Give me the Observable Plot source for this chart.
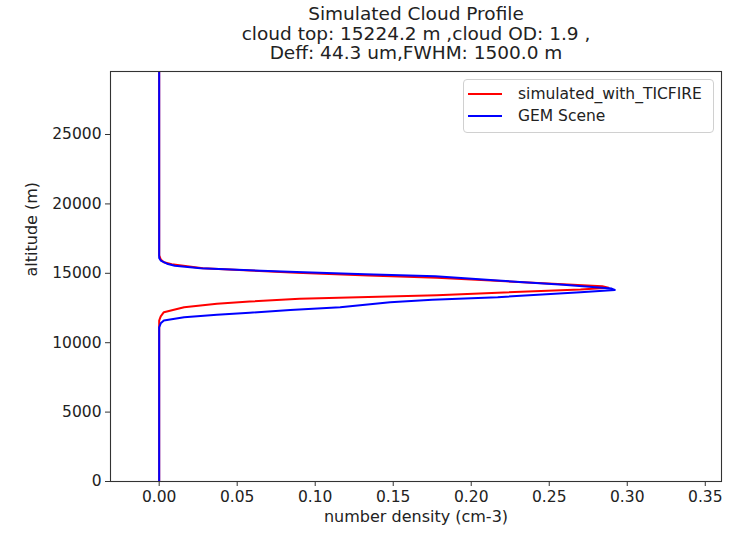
<!DOCTYPE html>
<html>
<head>
<meta charset="utf-8">
<script src="https://cdn.jsdelivr.net/npm/d3@7"></script>
<script src="https://cdn.jsdelivr.net/npm/@observablehq/plot@0.6"></script>
<style>
  html, body { margin: 0; padding: 0; background: white; }
  #wrap { position: relative; width: 731px; height: 535px; }
  #wrap svg { position: absolute; left: 0; top: 0; }
  #legend { position: absolute; left: 463px; top: 79px; width: 251px; height: 54px;
    border: 1px solid #d0d0d0; border-radius: 4px; background: rgba(255,255,255,0.85);
    box-sizing: border-box; font-family: "DejaVu Sans"; font-size: 15.5px; color: #222; }
  .entry { position: absolute; left: 0; height: 20px; width: 100%; }
  .swatch { position: absolute; left: 4px; top: 9px; width: 34px; height: 2px; }
  .lab { position: absolute; left: 54px; top: 0; line-height: 20px; white-space: nowrap; }
</style>
</head>
<body>
<div id="wrap"><div id="legend"></div></div>
<script>
const titleLines = ["Simulated Cloud Profile", "cloud top: 15224.2 m ,cloud OD: 1.9 ,", "Deff: 44.3 um,FWHM: 1500.0 m"];
const xLabel = "number density (cm-3)";
const yLabel = "altitude (m)";
const seriesNames = ["simulated_with_TICFIRE", "GEM Scene"];
const seriesColors = ["#ff0000", "#0000ff"];

const xTicks = [0, 0.05, 0.10, 0.15, 0.20, 0.25, 0.30, 0.35];
const yTicks = [0, 5000, 10000, 15000, 20000, 25000];
const xDomain = [-0.0312, 0.3604];
const yDomain = [0, 29540];

// simulated_with_TICFIRE
const simAlt = [0, 11600, 11750, 11900, 12200, 12560, 12800, 12970, 13160, 13420, 13600, 13830, 13960, 14070, 14200, 14420, 14680, 14850, 15040, 15200, 15370, 15500, 15650, 15800, 16000, 16300, 30000];
const simVal = [0, 0, 0.0005, 0.001, 0.003, 0.016, 0.037, 0.058, 0.090, 0.178, 0.217, 0.270, 0.288, 0.284, 0.262, 0.222, 0.178, 0.134, 0.088, 0.058, 0.028, 0.018, 0.008, 0.003, 0.001, 0, 0];

// GEM Scene
const gemAlt = [0, 11100, 11400, 11600, 11840, 12010, 12160, 12350, 12560, 12920, 13100, 13280, 13640, 13800, 13900, 14170, 14480, 14780, 14930, 15100, 15220, 15370, 15550, 15690, 15920, 16100, 30000];
const gemVal = [0, 0, 0.001, 0.003, 0.016, 0.037, 0.058, 0.084, 0.116, 0.148, 0.175, 0.217, 0.270, 0.292, 0.290, 0.259, 0.217, 0.177, 0.132, 0.088, 0.058, 0.0265, 0.010, 0.005, 0.001, 0, 0];

const sim = simAlt.map((a, i) => ({alt: a, v: simVal[i]}));
const gem = gemAlt.map((a, i) => ({alt: a, v: gemVal[i]}));

const chart = Plot.plot({
  width: 731,
  height: 535,
  marginLeft: 110,
  marginRight: 10,
  marginTop: 71,
  marginBottom: 54,
  style: {fontFamily: "DejaVu Sans", fontSize: "15.5px", color: "#222", background: "transparent", overflow: "visible"},
  x: {domain: xDomain},
  y: {domain: yDomain},
  marks: [
    Plot.line(sim, {x: "v", y: "alt", stroke: seriesColors[0], strokeWidth: 2, clip: true}),
    Plot.line(gem, {x: "v", y: "alt", stroke: seriesColors[1], strokeWidth: 2, clip: true}),
    Plot.frame({stroke: "#333", strokeWidth: 1.1}),
    Plot.axisX({ticks: xTicks, tickFormat: d3.format(".2f"), tickSize: 5, tickPadding: 4, label: null, stroke: "#333"}),
    Plot.axisY({ticks: yTicks, tickFormat: d3.format("d"), tickSize: 5, tickPadding: 4, label: null, stroke: "#333"}),
    Plot.text([titleLines.join("\n")], {frameAnchor: "top", dy: -38, fontSize: 18.5, lineHeight: 1.04, lineAnchor: "middle", fill: "#222"}),
    Plot.text([yLabel], {frameAnchor: "left", dx: -79, rotate: -90, fontSize: 16, fill: "#222"}),
    Plot.text([xLabel], {frameAnchor: "bottom", dy: 40, fontSize: 16, fill: "#222"})
  ]
});

const wrap = document.getElementById("wrap");
wrap.insertBefore(chart, wrap.firstChild);

const legend = document.getElementById("legend");
seriesNames.forEach((name, i) => {
  const e = document.createElement("div");
  e.className = "entry";
  e.style.top = (4 + i * 22) + "px";
  const s = document.createElement("div");
  s.className = "swatch";
  s.style.background = seriesColors[i];
  const l = document.createElement("div");
  l.className = "lab";
  l.textContent = name;
  e.appendChild(s); e.appendChild(l);
  legend.appendChild(e);
});
</script>
</body>
</html>
